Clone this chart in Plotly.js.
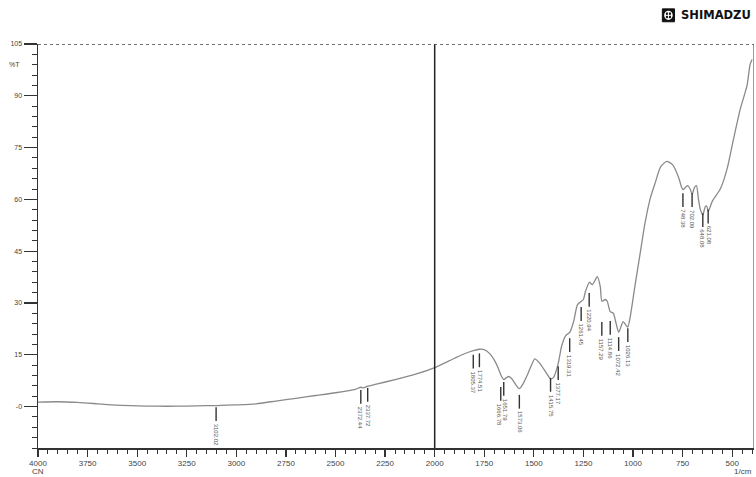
<!DOCTYPE html>
<html>
<head>
<meta charset="utf-8">
<script src="https://cdn.plot.ly/plotly-3.0.1.min.js"></script>
<style>html,body{margin:0;padding:0;background:#fff;}#chart{width:756px;height:477px;}</style>
</head>
<body>
<div id="chart"></div>
<script>
// Spectrum (wavenumber 1/cm, %T)
const wavenumber = [4000,3900,3800,3700,3600,3500,3400,3300,3200,3100,3000,2900,2800,2700,2600,2500,2400,2372,2360,2337,2300,2200,2100,2000,1900,1850,1805,1775,1750,1720,1700,1680,1665,1651,1640,1627,1610,1590,1573,1555,1530,1495,1470,1440,1415,1400,1377,1360,1340,1319,1300,1280,1261,1250,1240,1220,1205,1180,1165,1157,1140,1130,1115,1099,1085,1072,1050,1035,1026,1014,990,965,940,912,887,861,830,800,771,755,748,735,725,712,702,690,680,670,660,648,635,628,621,600,560,525,495,460,425,410,400];
const transmittance = [1.3,1.4,1.2,0.8,0.4,0.2,0.1,0.1,0.2,0.3,0.5,0.8,1.6,2.4,3.2,4.0,5.0,5.6,5.4,5.9,6.4,7.8,9.3,11.3,14.0,15.3,16.2,16.6,16.5,15.2,13.5,11.2,9.0,7.8,8.3,8.7,8.0,6.2,5.2,6.5,9.5,13.8,12.5,10.0,8.0,8.5,12.5,17.5,20.5,21.5,24.5,29.5,30.5,31.0,33.3,36.0,35.3,37.6,34.7,30.5,31.0,30.5,27.5,27.0,24.0,21.5,24.6,23.5,23.0,26.0,35.0,44.0,53.0,60.5,65.0,69.4,71.0,70.0,66.5,63.5,62.8,63.5,64.0,63.0,61.5,63.5,64.0,60.0,57.0,55.5,58.0,58.0,56.5,59.5,63.0,69.0,77.0,86.0,93.0,99.0,100.5];

// Peak labels
const peakWn = [3102.02,2372.44,2337.72,1805.37,1774.51,1666.78,1651.79,1573.06,1415.75,1377.17,1319.31,1261.45,1220.94,1157.29,1114.86,1072.42,1026.13,748.38,702.09,648.08,621.08];
const peakText = ["3102.02","2372.44","2337.72","1805.37","1774.51","1666.78","1651.79","1573.06","1415.75","1377.17","1319.31","1261.45","1220.94","1157.29","1114.86","1072.42","1026.13","748.38","702.09","648.08","621.08"];
const peakT = [1.0,6.0,6.6,16.2,16.6,6.9,8.3,4.6,9.5,12.9,21.0,30.0,34.1,25.7,26.0,21.3,23.9,63.0,63.0,57.2,58.2];

// Axis ticks
const xTicks = [4000,3750,3500,3250,3000,2750,2500,2250,2000,1750,1500,1250,1000,750,500];
const yTicks = [0,15,30,45,60,75,90,105];
const yTickText = ["-0","15","30","45","60","75","90","105"];

const xRange = [4000, 390];
const yRange = [-12, 105];
const axisColor = "#333";
const txtColor = "#444";
const fontFam = "Liberation Sans";
const W = 756, ML = 38, MR = 2;
const plotW = W - ML - MR;

const shapes = [];
const annotations = [];

// Spread apart labels of peaks that sit too close together (pixel shift only)
const pxOf = w => (xRange[0] - w) / (xRange[0] - xRange[1]) * plotW;
const shifts = peakWn.map(() => 0);
for (let i = 0; i < peakWn.length - 1; i++) {
  const gap = pxOf(peakWn[i + 1]) - pxOf(peakWn[i]);
  if (gap < 7) {
    shifts[i] -= (7 - gap) / 2;
    shifts[i + 1] += (7 - gap) / 2;
  }
}

// Peak markers and labels
peakWn.forEach((w, i) => {
  const top = peakT[i] - 1.2;
  const bot = top - 4.0;
  shapes.push({type:"line", xref:"x", yref:"y", x0:w, x1:w, y0:top, y1:bot,
    line:{color:"#333", width:1.4}});
  annotations.push({xref:"x", yref:"y", x:w, y:bot - 0.5, text:peakText[i],
    showarrow:false, textangle:90, xanchor:"center", yanchor:"top",
    borderpad:0, xshift:shifts[i],
    font:{family:fontFam, size:6, color:"#555"}});
});

// Frame elements
shapes.push({type:"line", xref:"x", yref:"y", x0:2000, x1:2000, y0:yRange[0], y1:105,
  line:{color:"#222", width:1.5}});
shapes.push({type:"line", xref:"x", yref:"y", x0:xRange[0], x1:xRange[1], y0:105, y1:105,
  line:{color:"#444", width:1.5, dash:"dot"}});
shapes.push({type:"line", xref:"x", yref:"y", x0:xRange[1], x1:xRange[1], y0:yRange[0], y1:105,
  line:{color:"#555", width:1.2}});

// Logo
shapes.push({type:"rect", xref:"paper", yref:"paper", x0:0.872, x1:0.889, y0:1.055, y1:1.087,
  fillcolor:"#111", line:{color:"#111", width:1}});
shapes.push({type:"circle", xref:"paper", yref:"paper", x0:0.8745, x1:0.8865, y0:1.0595, y1:1.0825,
  fillcolor:"#fff", line:{color:"#fff", width:0}});
shapes.push({type:"rect", xref:"paper", yref:"paper", x0:0.8770, x1:0.8840, y0:1.064, y1:1.078,
  fillcolor:"#111", line:{color:"#111", width:0}});
shapes.push({type:"line", xref:"paper", yref:"paper", x0:0.8805, x1:0.8805, y0:1.063, y1:1.079,
  line:{color:"#fff", width:1}});
shapes.push({type:"line", xref:"paper", yref:"paper", x0:0.8765, x1:0.8845, y0:1.071, y1:1.071,
  line:{color:"#fff", width:1}});
annotations.push({xref:"paper", yref:"paper", x:0.947, y:1.071, text:"<b>SHIMADZU</b>",
  showarrow:false, xanchor:"center", yanchor:"middle",
  font:{family:"DejaVu Sans", size:11.5, color:"#111"}});

annotations.push({xref:"paper", yref:"y", x:-0.033, y:99, text:"%T", showarrow:false,
  xanchor:"center", yanchor:"middle", font:{family:fontFam, size:7, color:txtColor}});
annotations.push({xref:"x", yref:"paper", x:4000, y:-0.058, text:"CN", showarrow:false,
  xanchor:"center", yanchor:"middle", font:{family:fontFam, size:8, color:txtColor}});
annotations.push({xref:"paper", yref:"paper", x:0.985, y:-0.058, text:"1/cm", showarrow:false,
  xanchor:"center", yanchor:"middle", font:{family:fontFam, size:8, color:txtColor}});

const trace = {
  x: wavenumber, y: transmittance, type:"scatter", mode:"lines",
  line:{color:"#8a8a8a", width:1.3, shape:"spline", smoothing:0.6},
  hoverinfo:"skip", showlegend:false
};

const layout = {
  width:W, height:477,
  margin:{l:ML, r:MR, t:44, b:29},
  paper_bgcolor:"#fff", plot_bgcolor:"#fff",
  showlegend:false,
  font:{family:fontFam, color:txtColor, size:8},
  xaxis:{
    range:xRange, tickvals:xTicks, ticks:"outside", ticklen:7, tickwidth:1.2, tickcolor:axisColor,
    showline:true, linecolor:axisColor, linewidth:1.5, showgrid:false, zeroline:false,
    tickfont:{family:fontFam, size:8, color:txtColor},
    minor:{dtick:50, tick0:0, ticks:"outside", ticklen:4, tickwidth:1, tickcolor:axisColor, showgrid:false}
  },
  yaxis:{
    range:yRange, tickvals:yTicks, ticktext:yTickText, ticks:"outside", ticklen:13, tickwidth:1.2,
    tickcolor:axisColor, showline:true, linecolor:axisColor, linewidth:1.5, showgrid:false, zeroline:false,
    tickfont:{family:fontFam, size:7, color:txtColor},
    minor:{dtick:3, tick0:0, ticks:"outside", ticklen:5, tickwidth:1, tickcolor:axisColor, showgrid:false}
  },
  shapes: shapes,
  annotations: annotations
};

Plotly.newPlot("chart", [trace], layout, {displayModeBar:false, staticPlot:true});
</script>
</body>
</html>
